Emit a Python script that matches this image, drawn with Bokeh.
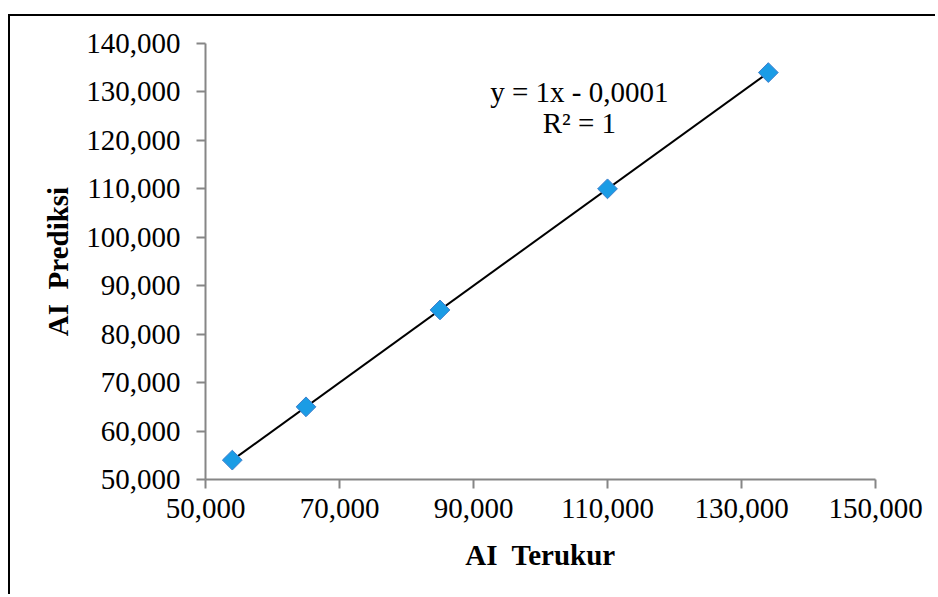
import numpy as np
from bokeh.plotting import figure
from bokeh.models import (Range1d, FixedTicker, CustomJSTickFormatter, Label,
                          ColumnDataSource)
from bokeh.embed import file_html
from bokeh.resources import INLINE

# ---- data ----
ai_terukur = [54000, 65000, 85000, 110000, 134000]
ai_prediksi = [54000, 65000, 85000, 110000, 134000]
x_ticks = [50000, 70000, 90000, 110000, 130000, 150000]
y_ticks = [50000, 60000, 70000, 80000, 90000, 100000, 110000, 120000, 130000, 140000]
slope = 1.0
intercept = -0.0001
equation_text = "y = 1x - 0,0001"
r2_text = "R² = 1"
x_title = "AI\u00a0 Terukur"
y_title = "AI\u00a0 Prediksi"

FONT = "Liberation Serif"
AXIS_GRAY = "#868686"
FS = "29px"

p = figure(width=927, height=580, output_backend="svg", toolbar_location=None,
           x_range=Range1d(50000, 150000), y_range=Range1d(50000, 140000),
           min_border_left=195, min_border_right=62, min_border_top=27,
           min_border_bottom=117,
           margin=(14, 0, 0, 8),
           styles={"border-top": "2px solid #000", "border-left": "2px solid #000"})
p.outline_line_color = None
p.grid.visible = False
p.background_fill_color = "white"
p.border_fill_color = "white"

fmt = CustomJSTickFormatter(code="return tick.toLocaleString('en-US');")
for ax, ticks in ((p.xaxis[0], x_ticks), (p.yaxis[0], y_ticks)):
    ax.ticker = FixedTicker(ticks=ticks)
    ax.formatter = fmt
    ax.minor_tick_line_color = None
    ax.major_tick_in = 0
    ax.major_tick_out = 9
    ax.axis_line_color = AXIS_GRAY
    ax.axis_line_width = 2
    ax.major_tick_line_color = AXIS_GRAY
    ax.major_tick_line_width = 2
    ax.major_label_text_font = FONT
    ax.major_label_text_font_size = FS
    ax.major_label_text_color = "black"
    ax.axis_label_text_font = FONT
    ax.axis_label_text_font_style = "bold"
    ax.axis_label_text_font_size = FS
    ax.axis_label_text_color = "black"

p.xaxis.axis_label = x_title
p.yaxis.axis_label = y_title
p.xaxis.major_label_standoff = 10
p.yaxis.major_label_standoff = 16
p.xaxis.axis_label_standoff = 18
p.yaxis.axis_label_standoff = 9

# trendline
xs = np.array([min(ai_terukur), max(ai_terukur)], dtype=float)
p.line(xs, slope * xs + intercept, line_color="black", line_width=2)

# points
src = ColumnDataSource(dict(x=ai_terukur, y=ai_prediksi))
p.scatter("x", "y", source=src, marker="square", angle=np.pi / 4, size=14,
          fill_color="#1B9CE5", line_color="#3F7FCC", line_width=1)

# equation labels
p.add_layout(Label(x=105800, y=129900, text=equation_text, text_font=FONT,
                   text_font_size=FS, text_align="center", text_baseline="alphabetic",
                   text_color="black"))
p.add_layout(Label(x=105800, y=123500, text=r2_text, text_font=FONT,
                   text_font_size=FS, text_align="center", text_baseline="alphabetic",
                   text_color="black"))

open("out.html", "w").write(file_html(p, INLINE))
